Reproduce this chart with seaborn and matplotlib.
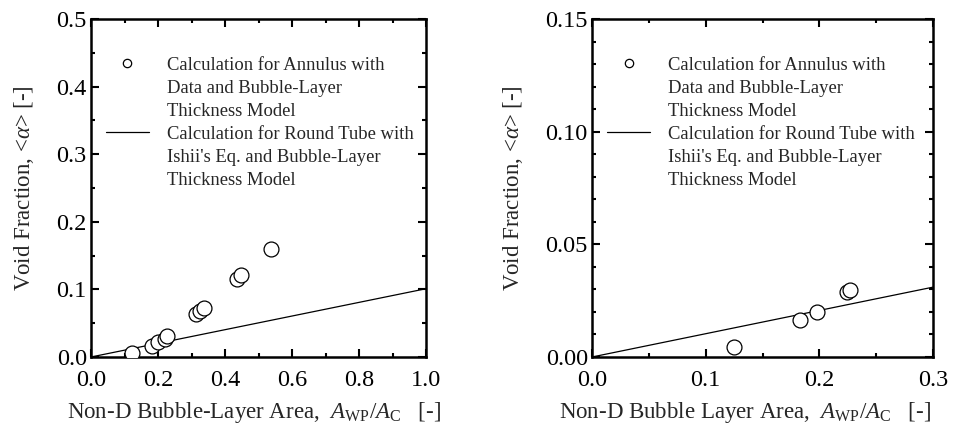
import matplotlib
matplotlib.use("Agg")
import matplotlib.pyplot as plt
from matplotlib.lines import Line2D
from matplotlib.ticker import MultipleLocator, FormatStrFormatter
import seaborn as sns
import pandas as pd

# ---- data ----
annulus_x_left = [0.123, 0.181, 0.199, 0.221, 0.228, 0.313, 0.325, 0.337, 0.436, 0.448, 0.537]
annulus_y_left = [0.006, 0.017, 0.022, 0.027, 0.031, 0.064, 0.068, 0.072, 0.115, 0.121, 0.160]
tube_x_left = [0.0, 1.0]
tube_y_left = [0.0, 0.101]

annulus_x_right = [0.125, 0.183, 0.198, 0.224, 0.227]
annulus_y_right = [0.0045, 0.0165, 0.0200, 0.0290, 0.0298]
tube_x_right = [0.0, 0.3]
tube_y_right = [0.0, 0.031]

legend_lines_circle = ["Calculation for Annulus with", "Data and Bubble-Layer", "Thickness Model"]
legend_lines_line = ["Calculation for Round Tube with", "Ishii's Eq. and Bubble-Layer", "Thickness Model"]

ylabel = r"Void Fraction, <$\alpha$> [-]"
xlabel_left = r"Non-D Bubble-Layer Area,  $A_{\rm WP}/A_{\rm C}$   [-]"
xlabel_right = r"Non-D Bubble Layer Area,  $A_{\rm WP}/A_{\rm C}$   [-]"

sns.set_theme(style="ticks")
plt.rcParams["font.family"] = ["Liberation Serif", "DejaVu Serif"]
plt.rcParams["mathtext.fontset"] = "custom"
plt.rcParams["mathtext.rm"] = "Liberation Serif"
plt.rcParams["mathtext.it"] = "Liberation Serif:italic"
plt.rcParams["mathtext.bf"] = "Liberation Serif:bold"

fig = plt.figure(figsize=(9.58, 4.30), dpi=100)
axL = fig.add_axes([91/958, 73/430, 335/958, 338/430])
axR = fig.add_axes([592/958, 73/430, 341/958, 338/430])


def draw(ax, ax_x, ax_y, lx, ly, xlim, ylim, xmaj, xmin, ymaj, ymin, xfmt, yfmt,
         xlabel, leg_anchor, ylab_x, xlab_x):
    df_pts = pd.DataFrame({"x": ax_x, "y": ax_y})
    df_line = pd.DataFrame({"x": lx, "y": ly})
    sns.lineplot(data=df_line, x="x", y="y", ax=ax, color="black", linewidth=0.9, zorder=2)
    sns.scatterplot(data=df_pts, x="x", y="y", ax=ax, s=115, facecolor="white",
                    edgecolor="black", linewidth=0.9, zorder=3, clip_on=True)
    ax.set_xlim(*xlim)
    ax.set_ylim(*ylim)
    ax.xaxis.set_major_locator(MultipleLocator(xmaj))
    ax.xaxis.set_minor_locator(MultipleLocator(xmin))
    ax.yaxis.set_major_locator(MultipleLocator(ymaj))
    ax.yaxis.set_minor_locator(MultipleLocator(ymin))
    ax.xaxis.set_major_formatter(FormatStrFormatter(xfmt))
    ax.yaxis.set_major_formatter(FormatStrFormatter(yfmt))
    ax.tick_params(which="both", direction="in", top=True, right=True, width=1.5,
                   labelsize=17.5, colors="black")
    ax.tick_params(axis="x", which="both", pad=9)
    ax.tick_params(axis="y", which="both", pad=3)
    ax.tick_params(which="major", length=6)
    ax.tick_params(which="minor", length=3)
    for sp in ax.spines.values():
        sp.set_visible(True)
        sp.set_linewidth(1.8)
        sp.set_color("black")
    ax.set_xlabel(xlabel, fontsize=16.5)
    ax.set_ylabel(ylabel, fontsize=16.5)
    ax.yaxis.set_label_coords(ylab_x, 0.5)
    ax.xaxis.set_label_coords(xlab_x, -0.128)

    blank = Line2D([], [], linestyle="none", marker=None)
    circ = Line2D([], [], linestyle="none", marker="o", markersize=6,
                  markerfacecolor="white", markeredgecolor="black", markeredgewidth=0.9)
    line = Line2D([], [], color="black", linewidth=0.9)
    handles = [circ, blank, blank, line, blank, blank]
    labels = legend_lines_circle + legend_lines_line
    ax.legend(handles, labels, loc="upper left", bbox_to_anchor=leg_anchor,
              frameon=False, fontsize=13.4, handlelength=2.3, handletextpad=0.95,
              labelspacing=0.32, borderaxespad=0, borderpad=0)


draw(axL, annulus_x_left, annulus_y_left, tube_x_left, tube_y_left,
     (0, 1.0), (0, 0.5), 0.2, 0.1, 0.1, 0.05, "%.1f", "%.1f", xlabel_left,
     (0.045, 0.888), -0.163, 0.487)
draw(axR, annulus_x_right, annulus_y_right, tube_x_right, tube_y_right,
     (0, 0.3), (0, 0.15), 0.1, 0.05, 0.05, 0.01, "%.1f", "%.2f", xlabel_right,
     (0.045, 0.888), -0.196, 0.449)

fig.savefig("out.png", dpi=100)
